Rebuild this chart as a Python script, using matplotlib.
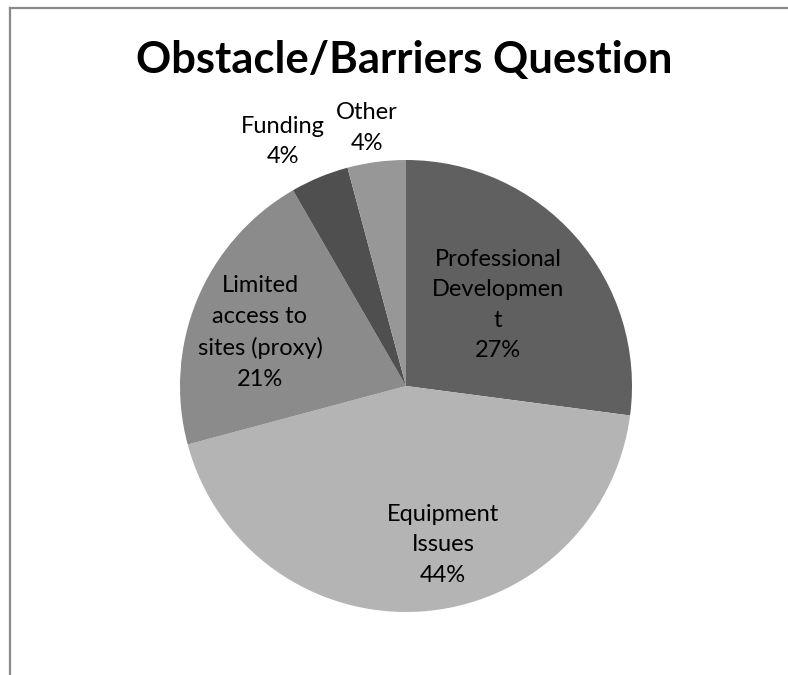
import matplotlib
matplotlib.use("Agg")
import matplotlib.pyplot as plt
from matplotlib.lines import Line2D
import numpy as np

categories = ["Professional\nDevelopmen\nt", "Equipment\nIssues", "Limited\naccess to\nsites (proxy)", "Funding", "Other"]
counts = [13, 21, 10, 2, 2]
colors = ["#606060", "#b4b4b4", "#8b8b8b", "#4f4f4f", "#979797"]
title = "Obstacle/Barriers Question"

# label layout: (radius fraction, angle offset in degrees)
label_layout = [(0.543, 0.15), (0.722, 9.35), (0.688, 2.4), (1.21, 4.2), (1.155, 1.1)]

plt.rcParams['font.family'] = ['Lato', 'DejaVu Sans']

W, H = 788, 675
fig = plt.figure(figsize=(W / 100, H / 100), dpi=100)
fig.patch.set_facecolor("white")

cx, cy, R = 406, 386, 226
ax = fig.add_axes([(cx - R) / W, (H - cy - R) / H, 2 * R / W, 2 * R / H])
wedges, _ = ax.pie(counts, colors=colors, startangle=90, counterclock=False,
                   radius=1.0, wedgeprops=dict(linewidth=0))
ax.set_xlim(-1, 1)
ax.set_ylim(-1, 1)
ax.set_aspect("equal")
ax.axis("off")

total = sum(counts)
for w, cat, n, (rf, doff) in zip(wedges, categories, counts, label_layout):
    mid = np.deg2rad((w.theta1 + w.theta2) / 2 + doff)
    pct = round(100 * n / total)
    ax.text(rf * np.cos(mid), rf * np.sin(mid), f"{cat}\n{pct}%",
            ha="center", va="center", fontsize=17, color="black",
            linespacing=1.56, clip_on=False)

fig.text(404.5 / W, 1 - 60 / H, title, ha="center", va="center",
         fontsize=31.4, fontweight="bold", color="black")

# chart frame (top and left edges visible)
fig.add_artist(Line2D([9.5 / W, 1.0], [1 - 8 / H, 1 - 8 / H], color="#8a8a8a", lw=1.6))
fig.add_artist(Line2D([9.5 / W, 9.5 / W], [1 - 8 / H, 0.0], color="#8a8a8a", lw=1.6))

fig.savefig("out.png", dpi=100, facecolor="white")
